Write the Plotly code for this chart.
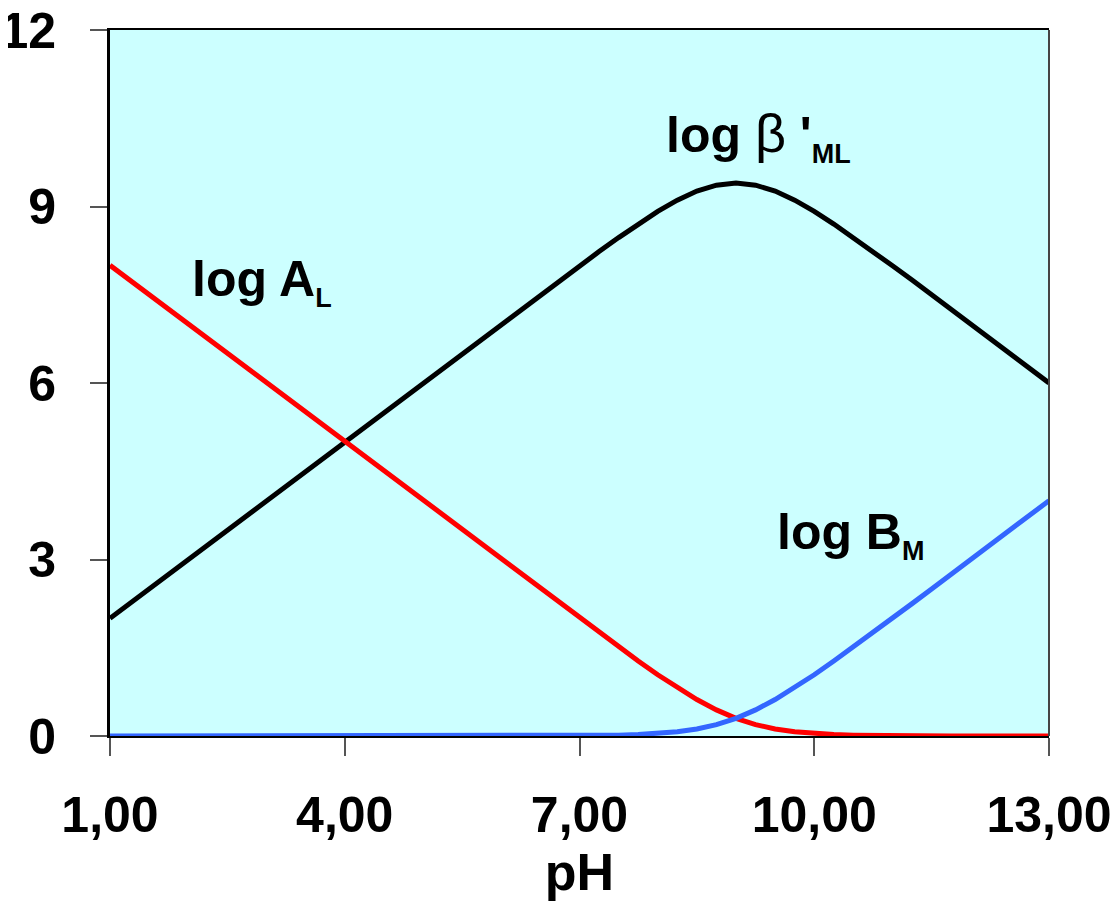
import plotly.graph_objects as go

ph = [1 + 0.25 * i for i in range(49)]

log_AL = [8, 7.75, 7.5, 7.25, 7, 6.75, 6.5, 6.25, 6, 5.75, 5.5, 5.25, 5, 4.75, 4.5, 4.25,
          4, 3.75, 3.5, 3.25, 3, 2.75, 2.5, 2.25, 2.004, 1.758, 1.514, 1.274, 1.041, 0.821,
          0.619, 0.444, 0.301, 0.194, 0.119, 0.071, 0.041, 0.024, 0.014, 0.008, 0.004,
          0, 0, 0, 0, 0, 0, 0, 0]

log_BM = [0] * 24 + [0.004, 0.008, 0.014, 0.024, 0.041, 0.071, 0.119, 0.194, 0.301, 0.444,
                     0.619, 0.821, 1.041, 1.274, 1.514, 1.758, 2.004, 2.25, 2.5, 2.75, 3.0,
                     3.25, 3.5, 3.75, 4.0]

log_beta = [2, 2.25, 2.5, 2.75, 3, 3.25, 3.5, 3.75, 4, 4.25, 4.5, 4.75, 5, 5.25, 5.5, 5.75,
            6, 6.25, 6.5, 6.75, 7, 7.25, 7.5, 7.748, 7.992, 8.234, 8.472, 8.702, 8.918, 9.108,
            9.262, 9.362, 9.398, 9.362, 9.262, 9.108, 8.918, 8.702, 8.472, 8.234, 7.992,
            7.75, 7.5, 7.25, 7.0, 6.75, 6.5, 6.25, 6.0]

x_ticks = [1, 4, 7, 10, 13]
x_ticktext = ["1,00", "4,00", "7,00", "10,00", "13,00"]
y_ticks = [0, 3, 6, 9, 12]

FONT = "Arial, Liberation Sans, sans-serif"
SUB = '<sub><span style="font-size:27px">{}</span></sub>'

fig = go.Figure()
fig.add_trace(go.Scatter(x=ph, y=log_beta, mode="lines", line=dict(color="black", width=5),
                         cliponaxis=False, showlegend=False))
fig.add_trace(go.Scatter(x=ph, y=log_AL, mode="lines", line=dict(color="#FF0000", width=5),
                         cliponaxis=False, showlegend=False))
fig.add_trace(go.Scatter(x=ph, y=log_BM, mode="lines", line=dict(color="#3366FF", width=5),
                         cliponaxis=False, showlegend=False))

fig.update_layout(
    width=1118, height=905,
    margin=dict(l=102, r=77, t=22, b=177),
    paper_bgcolor="white", plot_bgcolor="#CCFFFF",
    font=dict(family=FONT, color="black"),
    xaxis=dict(range=[1, 13], tickvals=x_ticks, ticktext=x_ticktext, automargin=False,
               showgrid=False, zeroline=False, showline=True, linecolor="black",
               linewidth=2, mirror=True, ticks="outside", ticklen=18, tickwidth=1.5,
               tickcolor="#555", tickfont=dict(size=50, family=FONT, weight="bold"),
               ticklabelstandoff=16, ticklabeloverflow="allow",
               title=dict(text="<b>pH</b>", font=dict(size=52, family=FONT), standoff=5)),
    yaxis=dict(range=[0, 12], tickvals=y_ticks, showgrid=False, zeroline=False,
               automargin=False, ticklabeloverflow="allow",
               showline=True, linecolor="black", linewidth=3, mirror=False,
               ticks="outside", ticklen=17, tickwidth=1.5, tickcolor="#555",
               tickfont=dict(size=50, family=FONT, weight="bold"), ticklabelstandoff=24),
)

fig.add_shape(type="line", xref="paper", yref="paper", x0=1, x1=1, y0=0, y1=1,
              line=dict(color="#444", width=2))

fig.add_annotation(x=0.085, y=0.643, xref="paper", yref="paper", showarrow=False,
                   xanchor="left", yanchor="middle",
                   text="<b>log A" + SUB.format("L") + "</b>", font=dict(size=50, family=FONT))
fig.add_annotation(x=0.59, y=0.85, xref="paper", yref="paper", showarrow=False,
                   xanchor="left", yanchor="middle",
                   text='<b>log </b><span style="font-size:54px">β</span><b> \'' + SUB.format("ML") + "</b>",
                   font=dict(size=50, family=FONT))
fig.add_annotation(x=0.708, y=0.285, xref="paper", yref="paper", showarrow=False,
                   xanchor="left", yanchor="middle",
                   text="<b>log B" + SUB.format("M") + "</b>", font=dict(size=50, family=FONT))

fig.write_html("out.html")
